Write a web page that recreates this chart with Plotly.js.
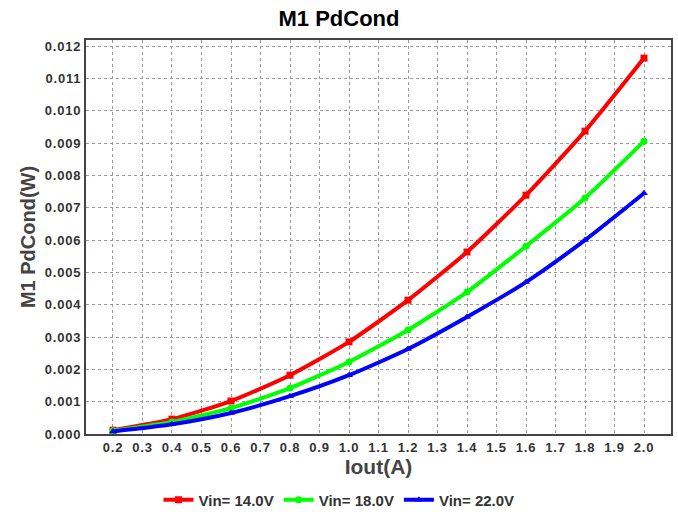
<!DOCTYPE html>
<html>
<head>
<meta charset="utf-8">
<script src="https://cdn.plot.ly/plotly-3.0.1.min.js"></script>
<style>
  html, body { margin: 0; padding: 0; background: #fff; }
  #chart { width: 678px; height: 516px; }
  #chart .xtick text, #chart .ytick text { letter-spacing: 0.8px; }
</style>
</head>
<body>
<div id="chart"></div>
<script>
// Output current (A)
const iout = [0.2, 0.4, 0.6, 0.8, 1.0, 1.2, 1.4, 1.6, 1.8, 2.0];

// Conduction loss of M1 (W) for each input voltage
const pd14 = [0.00012, 0.00046, 0.00102, 0.00182, 0.00285, 0.00414, 0.00563, 0.00739, 0.00937, 0.01163];
const pd18 = [0.00010, 0.00037, 0.00080, 0.00142, 0.00223, 0.00322, 0.00439, 0.00581, 0.00730, 0.00906];
const pd22 = [0.00008, 0.00030, 0.00065, 0.00117, 0.00182, 0.00263, 0.00362, 0.00470, 0.00600, 0.00745];

const seriesNames = ['Vin= 14.0V', 'Vin= 18.0V', 'Vin= 22.0V'];
const xTicks = [0.2, 0.3, 0.4, 0.5, 0.6, 0.7, 0.8, 0.9, 1.0, 1.1, 1.2, 1.3, 1.4, 1.5, 1.6, 1.7, 1.8, 1.9, 2.0];
const yTicks = [0, 0.001, 0.002, 0.003, 0.004, 0.005, 0.006, 0.007, 0.008, 0.009, 0.010, 0.011, 0.012];

function trace(y, name, color, symbol) {
  return {
    x: iout, y: y, name: name, type: 'scatter', mode: 'lines+markers',
    line: { color: color, width: 4, shape: 'spline', smoothing: 0.6 },
    marker: { color: color, symbol: symbol, size: 7 }
  };
}

const data = [
  trace(pd14, seriesNames[0], '#ff0000', 'square'),
  trace(pd18, seriesNames[1], '#00ff00', 'circle'),
  trace(pd22, seriesNames[2], '#0000ff', 'triangle-up')
];

const FAMILY = 'Liberation Sans, Arial, sans-serif';
const tickFont = { family: FAMILY, size: 13, color: '#333333', weight: 'bold' };

const layout = {
  width: 678, height: 516,
  margin: { l: 86, r: 7, t: 40, b: 82, autoexpand: false },
  paper_bgcolor: '#ffffff', plot_bgcolor: '#ffffff',
  font: { family: FAMILY },
  title: {
    text: '<b>M1 PdCond</b>',
    font: { size: 22, color: '#000000', family: FAMILY },
    x: 0.5, xanchor: 'center', y: 0.965, yanchor: 'middle'
  },
  showlegend: true,
  legend: {
    orientation: 'h', xref: 'container', x: 0.5, xanchor: 'center', y: -0.1675, yanchor: 'middle',
    font: { size: 15, color: '#333333', family: FAMILY, weight: 'bold' },
    itemwidth: 30, tracegroupgap: 0, itemsizing: 'trace'
  },
  xaxis: {
    range: [0.1085, 2.0915],
    tickvals: xTicks,
    ticktext: xTicks.map(v => v.toFixed(1)),
    tickfont: tickFont,
    ticks: '', ticklen: 0,
    showgrid: true, gridcolor: '#999999', griddash: 'dot', gridwidth: 1,
    zeroline: false,
    showline: true, linecolor: '#444444', linewidth: 2, mirror: true,
    title: { text: '<b>Iout(A)</b>', font: { size: 21, color: '#444444' }, standoff: 6 }
  },
  yaxis: {
    range: [0, 0.01219],
    tickvals: yTicks,
    ticktext: yTicks.map(v => v.toFixed(3)),
    tickfont: tickFont,
    ticks: '', ticklen: 0,
    showgrid: true, gridcolor: '#999999', griddash: 'dot', gridwidth: 1,
    zeroline: false,
    showline: true, linecolor: '#444444', linewidth: 2, mirror: true,
    title: { text: '<b>M1 PdCond(W)</b>', font: { size: 20, color: '#444444' }, standoff: 8 }
  }
};

Plotly.newPlot('chart', data, layout, { displayModeBar: false, staticPlot: true });
</script>
</body>
</html>
